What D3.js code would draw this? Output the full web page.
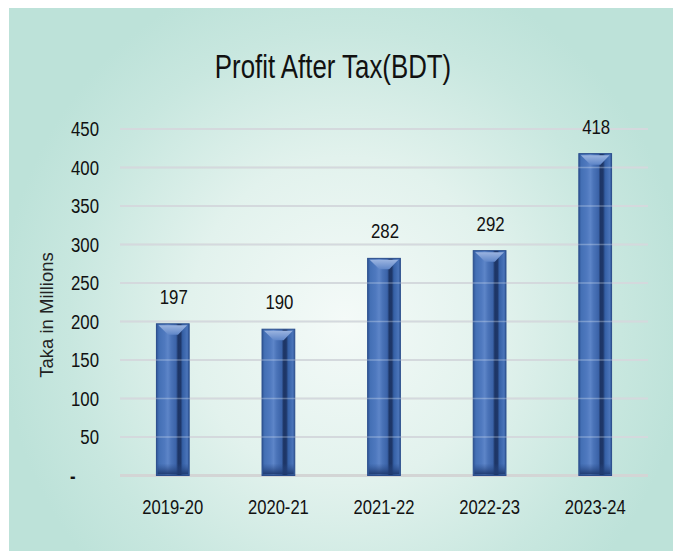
<!DOCTYPE html>
<html>
<head>
<meta charset="utf-8">
<script src="https://cdn.jsdelivr.net/npm/d3@7"></script>
<style>
  body { margin: 0; background: #fff; }
  svg { display: block; }
  text { font-family: "Liberation Sans", Arial, sans-serif; }
</style>
</head>
<body>
<svg id="chart" width="673" height="551"></svg>
<script>
// data
const years = ["2019-20", "2020-21", "2021-22", "2022-23", "2023-24"];
const profit = [197, 190, 282, 292, 418];
const yTicks = [0, 50, 100, 150, 200, 250, 300, 350, 400, 450];

var svg = d3.select("#chart");
var defs = svg.append("defs");

// the source font is a narrow one, so squeeze the text around its x
function squeeze(sel, k) {
  sel.each(function () {
    var t = d3.select(this);
    var tx = +t.attr("x") || 0;
    t.attr("transform", "translate(" + tx + ",0) scale(" + k + ",1) translate(" + (-tx) + ",0)");
  });
}

// background gradient
var bg = defs.append("radialGradient")
  .attr("id", "bg")
  .attr("gradientUnits", "userSpaceOnUse")
  .attr("cx", 345).attr("cy", 320).attr("r", 345)
  .attr("gradientTransform", "translate(345,320) scale(1,1.05) translate(-345,-320)");
bg.append("stop").attr("offset", "0").attr("stop-color", "#f4faf8");
bg.append("stop").attr("offset", "0.45").attr("stop-color", "#e2f2ed");
bg.append("stop").attr("offset", "0.8").attr("stop-color", "#c8e7df");
bg.append("stop").attr("offset", "1").attr("stop-color", "#bde2d9");

// bar body gradient
var bar = defs.append("linearGradient").attr("id", "barGrad").attr("x1", 0).attr("x2", 1).attr("y1", 0).attr("y2", 0);
[[0, "#2f5597"], [0.08, "#4470b5"], [0.25, "#4f79bf"], [0.35, "#5d85c8"], [0.45, "#4a73b8"],
 [0.6, "#3b63a8"], [0.66, "#1d3565"], [0.74, "#1e3769"], [0.8, "#3560a6"], [0.94, "#4a74b9"], [1, "#2f5597"]]
  .forEach(function (s) { bar.append("stop").attr("offset", s[0]).attr("stop-color", s[1]); });

var topGrad = defs.append("linearGradient").attr("id", "topGrad").attr("x1", 0).attr("x2", 0).attr("y1", 0).attr("y2", 1);
topGrad.append("stop").attr("offset", "0").attr("stop-color", "#9bb4e0");
topGrad.append("stop").attr("offset", "1").attr("stop-color", "#5f86c8");

var botGrad = defs.append("linearGradient").attr("id", "botGrad").attr("x1", 0).attr("x2", 0).attr("y1", 0).attr("y2", 1);
botGrad.append("stop").attr("offset", "0").attr("stop-color", "#2a4c8a").attr("stop-opacity", 0);
botGrad.append("stop").attr("offset", "1").attr("stop-color", "#1f3a70");

svg.append("rect")
  .attr("x", 9).attr("y", 8)
  .attr("width", 664).attr("height", 543)
  .attr("fill", "url(#bg)");

// scales
var x = d3.scaleBand().domain(years).range([120, 648]).paddingInner(0.69).paddingOuter(0.345);
var y = d3.scaleLinear().domain([0, 450]).range([475.5, 129]);

// grid (under bars)
svg.append("g").selectAll("line")
  .data(yTicks)
  .join("line")
  .attr("x1", 120).attr("x2", 648)
  .attr("y1", function (d) { return y(d); })
  .attr("y2", function (d) { return y(d); })
  .attr("stroke", "#d3d5d5")
  .attr("stroke-width", function (d) { return d === 0 ? 3 : 2; });

// bars
var bars = svg.append("g").selectAll("g")
  .data(profit)
  .join("g");

bars.append("rect")
  .attr("x", function (d, i) { return x(years[i]); })
  .attr("y", function (d) { return y(d); })
  .attr("width", x.bandwidth())
  .attr("height", function (d) { return y(0) - y(d); })
  .attr("fill", "url(#barGrad)")
  .attr("stroke", "#2a4d8c")
  .attr("stroke-width", 1);

// top bevel
bars.append("path")
  .attr("fill", "url(#topGrad)")
  .attr("d", function (d, i) {
    var x0 = x(years[i]), w = x.bandwidth(), t = y(d);
    return "M" + (x0 + 2) + "," + (t + 1.5) + "L" + (x0 + w - 2) + "," + (t + 1.5) +
      "L" + (x0 + w * 0.66) + "," + (t + 11) + "L" + (x0 + w * 0.36) + "," + (t + 11) + "Z";
  });

// bottom bevel
bars.append("rect")
  .attr("x", function (d, i) { return x(years[i]) + 1; })
  .attr("y", y(0) - 12)
  .attr("width", x.bandwidth() - 2)
  .attr("height", 11)
  .attr("fill", "url(#botGrad)");

// grid again, faint over bars
svg.append("g").selectAll("line")
  .data(yTicks.slice(1))
  .join("line")
  .attr("x1", 120).attr("x2", 648)
  .attr("y1", function (d) { return y(d); })
  .attr("y2", function (d) { return y(d); })
  .attr("stroke", "#d8e2f2")
  .attr("stroke-opacity", 0.35)
  .attr("stroke-width", 1.5);

// value labels
var labels = svg.append("g").selectAll("text")
  .data(profit)
  .join("text")
  .attr("x", function (d, i) { return x(years[i]) + x.bandwidth() / 2 + 1; })
  .attr("y", function (d) { return y(d) - 20; })
  .attr("text-anchor", "middle")
  .attr("font-size", 21)
  .attr("fill", "#111")
  .text(function (d) { return d; });
squeeze(labels, 0.8);

// y axis
var yAxis = svg.append("g")
  .attr("transform", "translate(120,0)")
  .call(d3.axisLeft(y).tickValues(yTicks).tickSize(0).tickPadding(21)
    .tickFormat(function (d) { return d === 0 ? "-" : d; }));
yAxis.select(".domain").remove();
yAxis.selectAll("text")
  .attr("font-size", 21)
  .attr("fill", "#111");
yAxis.selectAll(".tick").filter(function (d) { return d === 0; }).select("text")
  .attr("text-anchor", "start")
  .attr("x", -50)
  .attr("font-weight", "bold");
squeeze(yAxis.selectAll("text"), 0.8);

// x axis labels
var xAxis = svg.append("g")
  .attr("transform", "translate(0," + y(0) + ")")
  .call(d3.axisBottom(x).tickSize(0).tickPadding(24));
xAxis.select(".domain").remove();
xAxis.selectAll("text")
  .attr("font-size", 20.5)
  .attr("fill", "#111");
squeeze(xAxis.selectAll("text"), 0.81);

// axis title
svg.append("text")
  .attr("transform", "translate(53,315) rotate(-90)")
  .attr("text-anchor", "middle")
  .attr("font-size", 18.5)
  .attr("fill", "#222")
  .text("Taka in Millions");

// title
var title = svg.append("text")
  .attr("x", 333)
  .attr("y", 78)
  .attr("text-anchor", "middle")
  .attr("font-size", 34)
  .attr("fill", "#111")
  .text("Profit After Tax(BDT)");
squeeze(title, 0.76);
</script>
</body>
</html>
